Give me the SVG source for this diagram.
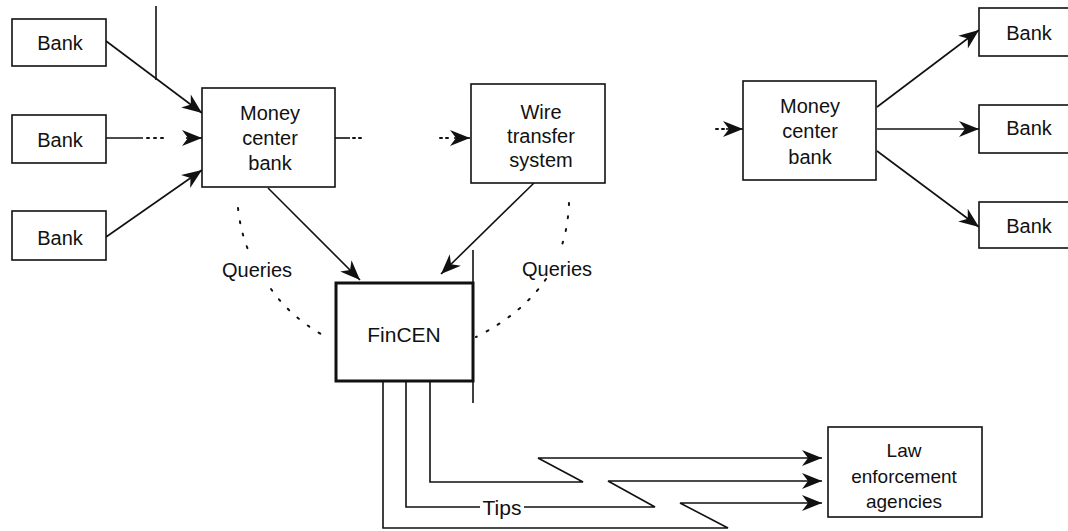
<svg xmlns="http://www.w3.org/2000/svg" width="1068" height="531" viewBox="0 0 1068 531">
<style>
text{font-family:"Liberation Sans",Arial,sans-serif;font-size:20px;fill:#111;text-anchor:middle}
.box{fill:#fff;stroke:#111;stroke-width:1.6}
.bold{fill:#fff;stroke:#111;stroke-width:3}
.ln{fill:none;stroke:#111;stroke-width:1.6}
.dot{fill:none;stroke:#111;stroke-width:2;stroke-dasharray:2 11;stroke-linecap:round}
.arr{marker-end:url(#ah)}
</style>
<defs>
<marker id="ah" markerUnits="userSpaceOnUse" markerWidth="22" markerHeight="16" refX="20" refY="8" orient="auto" overflow="visible">
<path d="M0,0 L20,8 L0,16 L6,8 Z" fill="#111"/>
</marker>
</defs>
<rect width="1068" height="531" fill="#fff"/>
<g id="connectors">
<line class="ln" x1="156" y1="6" x2="156" y2="80"/>
<line class="ln arr" x1="106" y1="41" x2="202" y2="113"/>
<line class="ln" x1="106" y1="138" x2="143" y2="138"/>
<line class="dot" x1="147" y1="138" x2="165" y2="138" style="stroke-dasharray:2 5"/>
<line class="ln arr" x1="186" y1="138" x2="202" y2="138"/>
<line class="ln arr" x1="106" y1="237" x2="202" y2="170"/>
<line class="ln" x1="335" y1="138" x2="350" y2="138"/>
<line class="dot" x1="353" y1="138" x2="362" y2="138" style="stroke-dasharray:2 4"/>
<line class="dot" x1="440" y1="138" x2="452" y2="138" style="stroke-dasharray:2 4"/>
<line class="ln arr" x1="454" y1="138" x2="470" y2="138"/>
<line class="dot" x1="716" y1="129" x2="724" y2="129" style="stroke-dasharray:2 4"/>
<line class="ln arr" x1="726" y1="129" x2="743" y2="129"/>
<line class="ln arr" x1="877" y1="107" x2="979" y2="30"/>
<line class="ln arr" x1="877" y1="129" x2="979" y2="129"/>
<line class="ln arr" x1="877" y1="151" x2="979" y2="227"/>
<line class="ln arr" x1="268" y1="188" x2="360" y2="280"/>
<line class="ln arr" x1="534" y1="183" x2="441" y2="274"/>
<path class="dot" d="M238,208 Q241,236 251,256"/>
<path class="dot" d="M271,289 Q290,316 321,334"/>
<path class="dot" d="M569,203 Q568,228 561,248"/>
<path class="dot" d="M546,279 Q522,314 476,337"/>
<line class="ln" x1="473" y1="250" x2="473" y2="403"/>
<path class="ln arr" d="M430,382 V482 H583 L538,458 H822"/>
<path class="ln" d="M406,382 V507 H480"/>
<path class="ln arr" d="M524,507 H655 L608,481 H822"/>
<path class="ln arr" d="M383,382 V528 H728 L680,503 H822"/>
<text x="502" y="515" style="font-size:21px">Tips</text>
<text x="257" y="277">Queries</text>
<text x="557" y="276">Queries</text>
</g>
<g id="bank1"><rect class="box" x="12" y="19" width="94" height="47"/><text x="60" y="50">Bank</text></g>
<g id="bank2"><rect class="box" x="12" y="115" width="94" height="48"/><text x="60" y="147">Bank</text></g>
<g id="bank3"><rect class="box" x="12" y="211" width="94" height="49"/><text x="60" y="245">Bank</text></g>
<g id="mcb-left"><rect class="box" x="202" y="88" width="133" height="99"/>
<text x="270" y="120">Money</text><text x="270" y="145">center</text><text x="270" y="170">bank</text></g>
<g id="wire"><rect class="box" x="471" y="84" width="134" height="99"/>
<text x="541" y="119">Wire</text><text x="541" y="143">transfer</text><text x="541" y="167">system</text></g>
<g id="mcb-right"><rect class="box" x="743" y="81" width="133" height="99"/>
<text x="810" y="113">Money</text><text x="810" y="138">center</text><text x="810" y="164">bank</text></g>
<g id="bankR1"><rect class="box" x="979" y="8" width="100" height="48"/><text x="1029" y="40">Bank</text></g>
<g id="bankR2"><rect class="box" x="979" y="105" width="100" height="48"/><text x="1029" y="135">Bank</text></g>
<g id="bankR3"><rect class="box" x="979" y="202" width="100" height="46"/><text x="1029" y="233">Bank</text></g>
<g id="fincen"><rect class="bold" x="336" y="283" width="137" height="98"/><text x="404" y="342" style="font-size:21px">FinCEN</text></g>
<g id="law"><rect class="box" x="828" y="427" width="154" height="90"/>
<text x="904" y="457" style="font-size:19px">Law</text><text x="904" y="483" style="font-size:19px">enforcement</text><text x="904" y="508" style="font-size:19px">agencies</text></g>
</svg>
